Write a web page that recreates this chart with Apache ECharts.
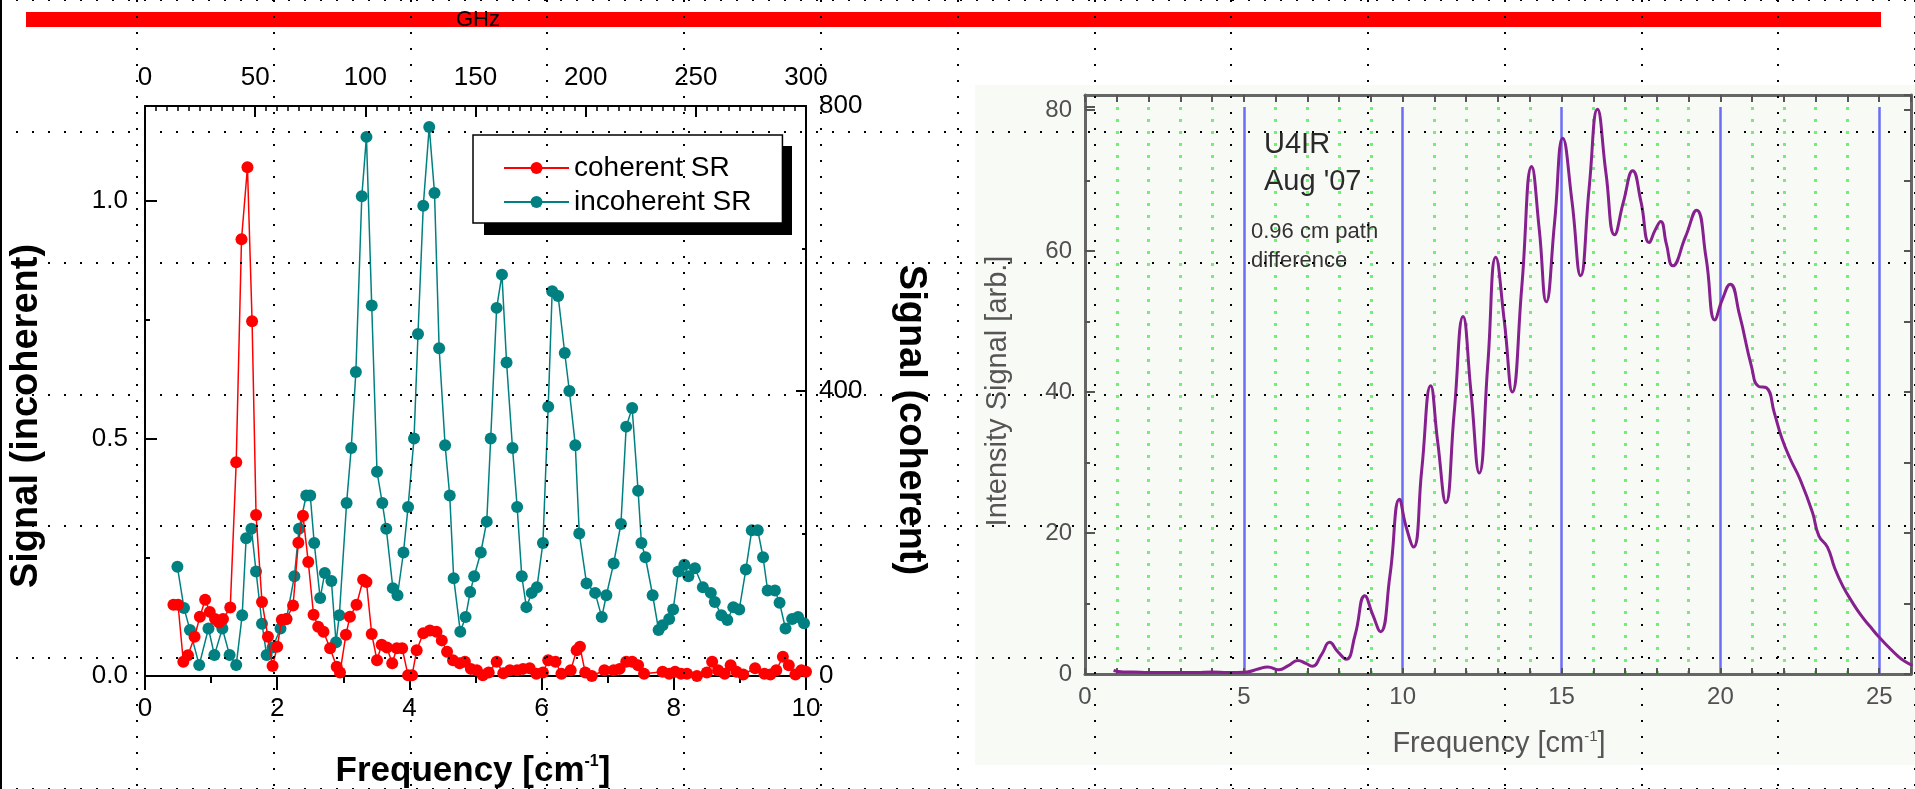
<!DOCTYPE html>
<html>
<head>
<meta charset="utf-8">
<script src="https://cdn.jsdelivr.net/npm/echarts@6/dist/echarts.min.js"></script>
<style>html,body{margin:0;padding:0;background:#fff;}#c{width:1915px;height:789px;}</style>
</head>
<body>
<div id="c"></div>
<script>
// ---- left chart: incoherent SR (left axis) ----
const incoherentX = [0.49,0.59,0.68,0.82,0.96,1.05,1.17,1.28,1.38,1.47,1.53,1.61,1.68,1.77,1.84,1.93,2.05,2.14,2.26,2.33,2.44,2.50,2.56,2.65,2.72,2.82,2.89,2.94,3.05,3.12,3.19,3.28,3.35,3.43,3.51,3.59,3.65,3.75,3.82,3.91,3.98,4.07,4.13,4.21,4.30,4.38,4.45,4.54,4.61,4.67,4.77,4.85,4.92,4.98,5.08,5.17,5.23,5.32,5.40,5.47,5.56,5.63,5.70,5.77,5.85,5.93,6.02,6.10,6.16,6.25,6.35,6.42,6.51,6.57,6.68,6.81,6.91,6.98,7.09,7.20,7.28,7.37,7.46,7.51,7.57,7.68,7.77,7.83,7.93,7.99,8.07,8.16,8.22,8.32,8.44,8.56,8.62,8.72,8.81,8.90,8.99,9.09,9.18,9.27,9.35,9.42,9.53,9.60,9.69,9.79,9.88,9.97];
const incoherentY = [0.23,0.143,0.097,0.023,0.10,0.044,0.10,0.044,0.023,0.128,0.29,0.31,0.22,0.11,0.044,0.06,0.10,0.12,0.21,0.31,0.38,0.38,0.28,0.164,0.217,0.20,0.071,0.128,0.364,0.48,0.64,1.01,1.135,0.78,0.43,0.364,0.31,0.185,0.17,0.26,0.356,0.50,0.72,0.99,1.156,1.017,0.69,0.486,0.38,0.206,0.093,0.124,0.177,0.21,0.26,0.325,0.50,0.775,0.845,0.66,0.48,0.356,0.21,0.145,0.175,0.187,0.28,0.567,0.81,0.80,0.68,0.60,0.486,0.30,0.195,0.175,0.124,0.17,0.237,0.32,0.525,0.564,0.39,0.28,0.25,0.17,0.097,0.107,0.12,0.14,0.22,0.234,0.21,0.227,0.187,0.175,0.156,0.128,0.118,0.145,0.14,0.224,0.307,0.307,0.25,0.18,0.18,0.154,0.10,0.12,0.124,0.111];
// ---- left chart: coherent SR (right axis) ----
const coherentX = [0.43,0.50,0.58,0.65,0.75,0.83,0.91,0.98,1.06,1.12,1.18,1.29,1.38,1.46,1.55,1.62,1.68,1.77,1.86,1.93,2.00,2.07,2.14,2.24,2.32,2.39,2.47,2.55,2.62,2.70,2.80,2.90,2.95,3.04,3.10,3.20,3.30,3.35,3.43,3.51,3.58,3.66,3.74,3.81,3.89,3.98,4.04,4.11,4.21,4.31,4.41,4.49,4.57,4.66,4.76,4.84,4.93,5.02,5.11,5.20,5.32,5.42,5.52,5.63,5.72,5.82,5.92,6.02,6.10,6.21,6.30,6.44,6.53,6.58,6.66,6.76,6.95,7.09,7.18,7.28,7.37,7.46,7.55,7.83,7.93,8.02,8.11,8.20,8.35,8.50,8.58,8.67,8.77,8.86,8.95,9.05,9.23,9.37,9.46,9.55,9.65,9.74,9.84,9.93,10.0];
const coherentY = [100,100,20,29,55,83,107,90,80,75,80,96,300,613,714,498,226,104,55,14,41,79,80,99,187,225,160,86,69,62,39,13,5,58,83,100,135,132,59,22,44,40,18,39,39,1,1,36,60,64,62,50,34,22,18,20,10,8,1,5,20,4,8,8,10,11,3,5,22,20,3,8,36,41,5,0,8,8,10,20,20,15,3,6,3,6,3,3,0,5,20,8,3,15,6,2,11,3,2,8,27,15,2,8,6];
// ---- right chart: U4IR spectrum ----
const u4irX = [0.9,1.2,1.5,2,2.5,3,3.5,4,4.5,5.1,5.45,5.75,6.1,6.4,6.7,6.95,7.15,7.45,7.7,7.95,8.22,8.5,8.81,9.05,9.3,9.6,9.9,10.1,10.34,10.6,10.88,11.1,11.36,11.62,11.9,12.15,12.41,12.68,12.93,13.2,13.45,13.75,14.06,14.3,14.52,14.78,15.04,15.33,15.6,15.87,16.13,16.4,16.67,16.95,17.24,17.5,17.76,17.95,18.12,18.3,18.5,18.9,19.25,19.55,19.83,20.05,20.31,20.6,20.98,21.2,21.45,21.7,21.93,22.2,22.5,22.9,23.1,23.37,23.6,23.85,24.15,24.43,24.7,25.0,25.3,25.57,25.8,26.05];
const u4irY = [0.5,0.3,0.3,0.2,0.2,0.2,0.2,0.3,0.2,0.3,0.7,1.0,0.6,1.2,1.9,1.5,1.1,2.8,4.5,3.2,2.1,5.5,11.1,8.5,6.0,14,24.8,21,18.0,29,40.9,33,24.3,37,50.7,40,28.5,44,59.1,50,40.0,55,72,63,52.8,64,76,67,56.5,69,80.1,71,62.3,67,71.4,67,61.2,63,64.2,61,57.9,62,65.8,59,50.2,53,55.3,51,43.6,40.8,40.6,37,33.5,30.5,27.7,22.9,19.6,18.0,15,12.5,10.2,8.3,6.8,5.2,3.8,2.6,1.8,1.2];

const legendNames = ['coherent SR', 'incoherent SR'];
const FONT = "'Liberation Sans', Arial, Helvetica, sans-serif";

function zip(xs, ys) { return xs.map((x, i) => [x, ys[i]]); }

const chart = echarts.init(document.getElementById('c'), null, {renderer: 'canvas'});

const blackLine = {color: '#000', width: 2};
const grayLine = {color: '#666', width: 3};
const grayTick = {color: '#555', width: 2};

const option = {
  animation: false,
  backgroundColor: '#ffffff',
  grid: [
    {left: 145, top: 106, width: 661, height: 570},
    {left: 1085, top: 107, width: 826, height: 567},
    {left: 1085, top: 95, width: 826, height: 579},
    {left: -47.24, top: -37.24, width: 2015.16, height: 863.64}
  ],
  legend: {
    data: legendNames,
    orient: 'vertical',
    left: 473, top: 135,
    backgroundColor: '#fff',
    borderColor: '#000', borderWidth: 1.5, borderRadius: 0,
    padding: [19, 31, 7, 30],
    itemGap: 6, itemWidth: 65, itemHeight: 15,
    textStyle: {fontSize: 28, fontFamily: FONT, color: '#000'}
  },
  xAxis: [
    {gridIndex: 0, type: 'value', position: 'bottom', min: 0, max: 10, interval: 2,
     axisLine: {show: true, onZero: false, lineStyle: blackLine},
     axisTick: {show: true, inside: false, length: 14, lineStyle: blackLine},
     minorTick: {show: true, splitNumber: 2, length: 7, lineStyle: blackLine},
     axisLabel: {margin: 20, fontSize: 26, color: '#000', fontFamily: FONT},
     splitLine: {show: false}},
    {gridIndex: 0, type: 'value', position: 'top', min: 0, max: 300, interval: 50,
     axisLine: {show: true, onZero: false, lineStyle: blackLine},
     axisTick: {show: true, inside: true, length: 11, lineStyle: blackLine},
     minorTick: {show: true, splitNumber: 10, length: 5, lineStyle: {color: '#000', width: 1.5}},
     axisLabel: {margin: 15, fontSize: 26, color: '#000', fontFamily: FONT},
     splitLine: {show: false}},
    {gridIndex: 1, type: 'value', position: 'bottom', min: 0, max: 26, interval: 1,
     axisLine: {show: true, onZero: false, lineStyle: grayLine},
     axisTick: {show: true, inside: true, length: 6, lineStyle: grayTick},
     axisLabel: {margin: 11, fontSize: 24, color: '#505050', fontFamily: FONT,
       formatter: v => (Math.abs(v % 5) < 1e-9 ? String(v) : '')},
     splitLine: {show: true, showMaxLine: false,
       lineStyle: {color: ['rgba(0,0,0,0)', '#74ee74', '#74ee74', '#74ee74', '#74ee74'], width: 3, type: [3, 9]}}},
    {gridIndex: 1, type: 'value', position: 'top', min: 0, max: 26, interval: 5,
     axisLine: {show: false, onZero: false}, axisTick: {show: false}, axisLabel: {show: false},
     splitLine: {show: true, showMinLine: false, showMaxLine: false, lineStyle: {color: '#6c6cf6', width: 2.5}}},
    {gridIndex: 2, type: 'value', position: 'top', min: 0, max: 26, interval: 1,
     axisLine: {show: true, onZero: false, lineStyle: grayLine},
     axisTick: {show: true, inside: true, length: 7, lineStyle: grayTick},
     axisLabel: {show: false}, splitLine: {show: false}},
    {gridIndex: 3, type: 'value', min: 0, max: 14, interval: 1, z: 20,
     axisLine: {show: false, onZero: false}, axisTick: {show: false}, axisLabel: {show: false},
     splitLine: {show: true, lineStyle: {color: '#000', width: 2, type: [2, 14]}}}
  ],
  yAxis: [
    {gridIndex: 0, type: 'value', position: 'left', min: 0, max: 1.2, interval: 0.5,
     axisLine: {show: true, onZero: false, lineStyle: blackLine},
     axisTick: {show: true, inside: true, length: 12, lineStyle: blackLine},
     minorTick: {show: true, splitNumber: 2, length: 5, lineStyle: blackLine},
     axisLabel: {margin: 17, fontSize: 26, color: '#000', fontFamily: FONT,
       formatter: v => (Math.abs(v * 2 - Math.round(v * 2)) < 1e-9 ? v.toFixed(1) : '')},
     splitLine: {show: false}},
    {gridIndex: 0, type: 'value', position: 'right', min: 0, max: 800, interval: 400,
     axisLine: {show: true, onZero: false, lineStyle: blackLine},
     axisTick: {show: true, inside: true, length: 10, lineStyle: blackLine},
     minorTick: {show: true, splitNumber: 2, length: 4, lineStyle: blackLine},
     axisLabel: {margin: 13, fontSize: 26, color: '#000', fontFamily: FONT},
     splitLine: {show: false}},
    {gridIndex: 1, type: 'value', position: 'left', min: 0, max: 80.43, interval: 20,
     axisLine: {show: true, onZero: false, lineStyle: grayLine},
     axisTick: {show: true, inside: true, length: 10, lineStyle: grayTick},
     minorTick: {show: true, splitNumber: 2, length: 5, lineStyle: grayTick},
     axisLabel: {margin: 13, fontSize: 24, color: '#505050', fontFamily: FONT,
       formatter: v => (Math.abs(v % 20) < 1e-9 ? String(v) : '')},
     splitLine: {show: false}},
    {gridIndex: 2, type: 'value', position: 'left', min: 0, max: 82.13,
     axisLine: {show: true, onZero: false, lineStyle: grayLine},
     axisTick: {show: false}, axisLabel: {show: false}, splitLine: {show: false}},
    {gridIndex: 2, type: 'value', position: 'right', min: 0, max: 82.13, interval: 10,
     axisLine: {show: true, onZero: false, lineStyle: grayLine},
     axisTick: {show: true, inside: true, length: 7, lineStyle: grayTick},
     axisLabel: {show: false}, splitLine: {show: false}},
    {gridIndex: 3, type: 'value', min: 0, max: 6, interval: 1, z: 20,
     axisLine: {show: false, onZero: false}, axisTick: {show: false}, axisLabel: {show: false},
     splitLine: {show: true, lineStyle: {color: '#000', width: 2, type: [2, 14]}}}
  ],
  series: [
    {name: legendNames[0], type: 'line', xAxisIndex: 0, yAxisIndex: 1, z: 4,
     data: zip(coherentX, coherentY), symbol: 'circle', symbolSize: 12,
     itemStyle: {color: '#ff0000'}, lineStyle: {color: '#ff0000', width: 1.5}},
    {name: legendNames[1], type: 'line', xAxisIndex: 0, yAxisIndex: 0, z: 3,
     data: zip(incoherentX, incoherentY), symbol: 'circle', symbolSize: 12,
     itemStyle: {color: '#008080'}, lineStyle: {color: '#008080', width: 1.5}},
    {name: 'U4IR', type: 'line', xAxisIndex: 2, yAxisIndex: 2, z: 5,
     data: zip(u4irX, u4irY), smooth: 0.5, symbol: 'none',
     lineStyle: {color: '#86208f', width: 3}}
  ],
  graphic: {elements: [
    {type: 'rect', z: -10, shape: {x: 975, y: 85, width: 940, height: 680}, style: {fill: '#f8faf5'}},
    {type: 'rect', z: 30, shape: {x: 0, y: 0, width: 2, height: 789}, style: {fill: '#000'}},
    {type: 'rect', z: 1, shape: {x: 26, y: 12, width: 1855, height: 15}, style: {fill: '#ff0000'}},
    {type: 'rect', z: 3, shape: {x: 484, y: 146, width: 308, height: 89}, style: {fill: '#000'}},
    {type: 'text', z: 2, x: 478, y: 20, style: {text: 'GHz', fontSize: 22, fontFamily: FONT, fill: '#000', align: 'center', verticalAlign: 'middle'}},
    {type: 'text', z: 2, x: 27, y: 416, rotation: Math.PI / 2,
     style: {text: 'Signal (incoherent)', fontSize: 38, fontWeight: 'bold', fontFamily: FONT, fill: '#000', align: 'center', verticalAlign: 'middle'}},
    {type: 'text', z: 2, x: 910, y: 420, rotation: -Math.PI / 2,
     style: {text: 'Signal (coherent)', fontSize: 38, fontWeight: 'bold', fontFamily: FONT, fill: '#000', align: 'center', verticalAlign: 'middle'}},
    {type: 'text', z: 2, x: 473, y: 771,
     style: {text: 'Frequency [cm{s|-1}]', fontSize: 35, fontWeight: 'bold', fontFamily: FONT, fill: '#000', align: 'center', verticalAlign: 'middle',
       rich: {s: {fontSize: 16, fontWeight: 'bold', fontFamily: FONT, fill: '#000', verticalAlign: 'top'}}}},
    {type: 'text', z: 2, x: 998, y: 391, rotation: Math.PI / 2,
     style: {text: 'Intensity Signal [arb.]', fontSize: 29, fontFamily: FONT, fill: '#555', align: 'center', verticalAlign: 'middle'}},
    {type: 'text', z: 2, x: 1499, y: 744,
     style: {text: 'Frequency [cm{s|-1}]', fontSize: 29, fontFamily: FONT, fill: '#555', align: 'center', verticalAlign: 'middle',
       rich: {s: {fontSize: 15, fontFamily: FONT, fill: '#555', verticalAlign: 'top'}}}},
    {type: 'text', z: 6, x: 1264, y: 145, style: {text: 'U4IR', fontSize: 29, fontFamily: FONT, fill: '#2a2a2a', align: 'left', verticalAlign: 'middle'}},
    {type: 'text', z: 6, x: 1264, y: 182, style: {text: "Aug '07", fontSize: 29, fontFamily: FONT, fill: '#2a2a2a', align: 'left', verticalAlign: 'middle'}},
    {type: 'text', z: 6, x: 1251, y: 232, style: {text: '0.96 cm path', fontSize: 22, fontFamily: FONT, fill: '#333', align: 'left', verticalAlign: 'middle'}},
    {type: 'text', z: 6, x: 1251, y: 261, style: {text: 'difference', fontSize: 22, fontFamily: FONT, fill: '#333', align: 'left', verticalAlign: 'middle'}}
  ]}
};
chart.setOption(option);
</script>
</body>
</html>
